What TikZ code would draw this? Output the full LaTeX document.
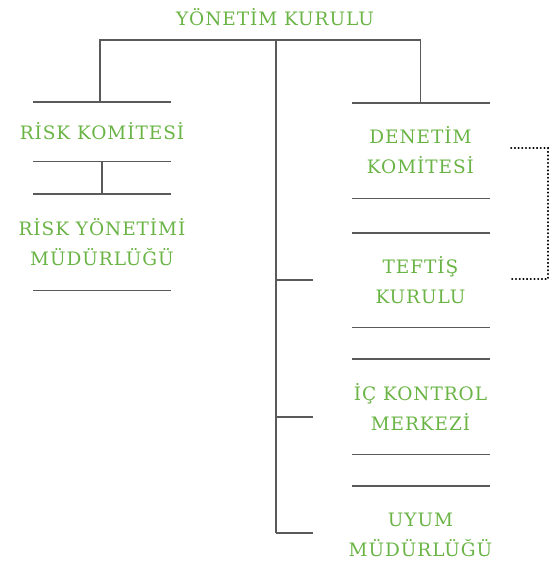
\documentclass[tikz,border=0pt]{standalone}
\usepackage{fontspec}
\setmainfont{DejaVu Serif}[LetterSpace=5]
\definecolor{lbl}{RGB}{106,180,69}
\definecolor{rulec}{RGB}{90,90,90}
\begin{document}
\begin{tikzpicture}[x=1pt,y=-1pt,
  lbltext/.style={text=lbl,font=\fontsize{18.5}{30}\selectfont,align=center,inner sep=0pt},
  unit/.style={lbltext,minimum width=138pt},
  rule/.style={draw=rulec,line width=1.4pt},
  dots/.style={draw=black,line width=1.8pt,line cap=round,dash pattern=on 0.4pt off 3.3pt}]
\useasboundingbox (0,0) rectangle (554,578);
\node[lbltext] (yk) at (275,17) {YÖNETİM KURULU};
% left column
\node[unit,minimum height=59pt] (rk) at (102,131.5) {RİSK KOMİTESİ};
\node[unit,minimum height=96pt] (rym) at (102,242) {RİSK YÖNETİMİ\\MÜDÜRLÜĞÜ};
% right column
\node[unit,minimum height=95pt] (dk) at (420.5,150.5) {DENETİM\\KOMİTESİ};
\node[unit,minimum height=94pt] (tk) at (420.5,280) {TEFTİŞ\\KURULU};
\node[unit,minimum height=95pt] (ick) at (420.5,406.5) {İÇ KONTROL\\MERKEZİ};
\node[unit,minimum height=98pt] (uym) at (420.5,535) {UYUM\\MÜDÜRLÜĞÜ};
% rules above/below units (fixed width 138pt)
\foreach \n in {rk,rym,dk,tk,ick}{
  \draw[rule] ([xshift=-69pt]\n.north) -- ([xshift=69pt]\n.north);
  \draw[rule] ([xshift=-69pt]\n.south) -- ([xshift=69pt]\n.south);
}
\draw[rule] ([xshift=-69pt]uym.north) -- ([xshift=69pt]uym.north);
% tree connectors
\coordinate (j) at (276,40);
\coordinate (e) at (276,533);
\draw[rule] ([xshift=-2pt]rk.north) |- (j) -| (dk.north);
\draw[rule] (j) -- (e);
\draw[rule] (rk.south) -- (rym.north);
\coordinate (b1) at (313,280);
\coordinate (b2) at (313,417);
\coordinate (b3) at (313,533);
\draw[rule] (b1 -| j) -- (b1);
\draw[rule] (b2 -| j) -- (b2);
\draw[rule] (e) -- (b3);
% dotted bracket
\coordinate (d1) at (511,148);
\coordinate (d2) at (511,279);
\draw[dots] (d1) -- ++(37,0) |- (d2);
\end{tikzpicture}
\end{document}
